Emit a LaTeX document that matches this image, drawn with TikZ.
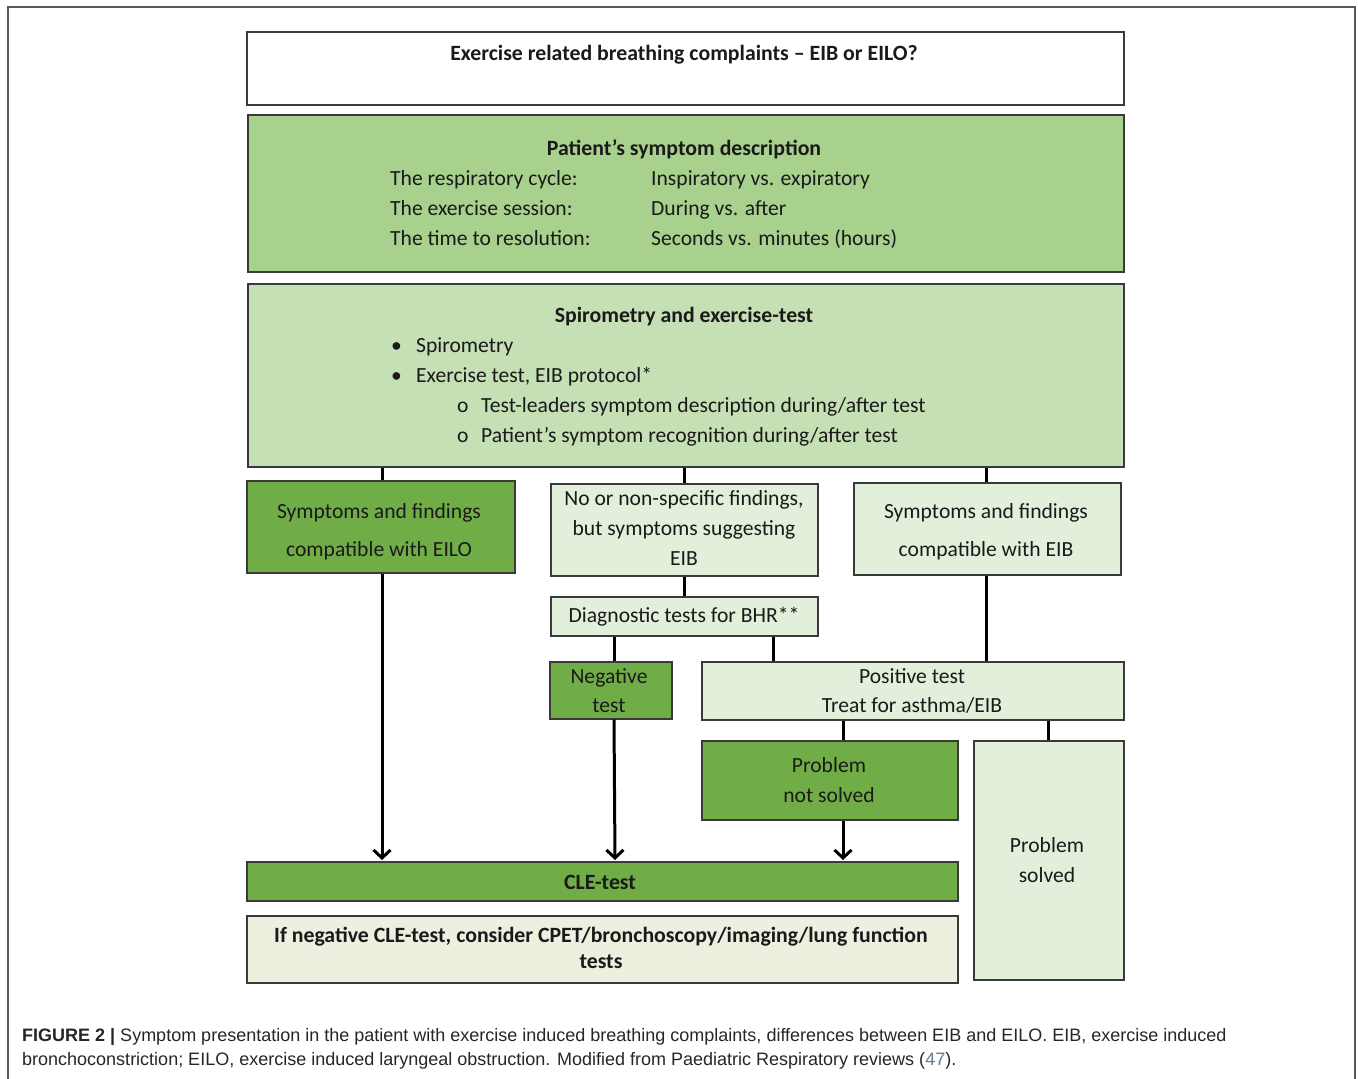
\documentclass[tikz,border=0pt]{standalone}
\usepackage{fontspec}
\setmainfont{Carlito}
\newfontfamily\capfont{Liberation Sans}
\usetikzlibrary{arrows.meta}
\definecolor{gmid}{HTML}{A9D18E}
\definecolor{glight}{HTML}{C5E0B4}
\definecolor{gdark}{HTML}{70AD47}
\definecolor{gpale}{HTML}{E2EFDA}
\definecolor{gcream}{HTML}{EBF1DE}
\definecolor{txt}{HTML}{1A1A1A}
\definecolor{bord}{HTML}{3A3A3A}
\definecolor{refc}{HTML}{6A7A90}
\tikzset{
  box/.style={draw=bord, line width=1.5pt, inner sep=0pt, text=txt, align=center},
  conn/.style={draw=black, line width=3pt},
  arr/.style={conn, -{Straight Barb[length=8pt,width=17pt,line width=3pt]}},
  lbl/.style={inner sep=0pt, text=txt, font=\fontsize{21.6}{30}\selectfont, anchor=base west},
  clbl/.style={inner sep=0pt, text=txt, font=\fontsize{21.6}{30}\selectfont, anchor=base},
  blbl/.style={inner sep=0pt, text=txt, font=\bfseries\fontsize{21.8}{30}\selectfont, anchor=base},
}
\newcommand{\boxat}[6]{% name, x1, y1, x2, y2, style
  \path (#2,#3) coordinate (#1-nw) (#4,#5) coordinate (#1-se);
  \node[box, #6, minimum width={(#4-#2)*1pt}, minimum height={(#5-#3)*1pt}, anchor=north west] (#1) at (#2,#3) {};
}
\begin{document}
\begin{tikzpicture}[x=1pt,y=-1pt]
\useasboundingbox (0,0) rectangle (1358,1079);
% outer frame
\draw[line width=1.2pt, draw=black!65] (8,1080) -- (8,7) -- (1355,7) -- (1355,1080);

% boxes
\boxat{title}{246}{31}{1123}{104}{fill=white}
\boxat{pat}{247}{114}{1123}{271}{fill=gmid}
\boxat{spiro}{247}{283}{1123}{466}{fill=glight}
\boxat{eilo}{246}{480}{514}{572}{fill=gdark}
\boxat{nons}{550}{483}{817}{575}{fill=gpale}
\boxat{eib}{853}{482}{1120}{574}{fill=gpale}
\boxat{diag}{550}{596}{817}{635}{fill=gpale}
\boxat{neg}{549}{661}{671}{718}{fill=gdark}
\boxat{pos}{701}{661}{1123}{719}{fill=gpale}
\boxat{pns}{701}{740}{957}{819}{fill=gdark}
\boxat{ps}{973}{740}{1123}{979}{fill=gpale}
\boxat{cle}{246}{861}{957}{900}{fill=gdark}
\boxat{cons}{246}{915}{957}{982}{fill=gcream}

% title text
\node[blbl] (titletxt) at (684,60) {Exercise related breathing complaints -- EIB or EILO?};

% patient box
\node[blbl] (pathead) at (684,155) {Patient’s symptom description};
\node[lbl] (p1a) at (390,185) {The respiratory cycle:};
\node[lbl] (p1b) at (651,185) {Inspiratory vs. expiratory};
\node[lbl] (p2a) at (390,215) {The exercise session:};
\node[lbl] (p2b) at (651,215) {During vs. after};
\node[lbl] (p3a) at (390,245) {The time to resolution:};
\node[lbl] (p3b) at (651,245) {Seconds vs. minutes (hours)};

% spirometry box
\node[blbl] (spirohead) at (684,322) {Spirometry and exercise-test};
\node[lbl] (b1) at (391,352) {•};
\node[lbl] (s1) at (416,352) {Spirometry};
\node[lbl] (b2) at (391,382) {•};
\node[lbl] (s2) at (416,382) {Exercise test, EIB protocol*};
\node[lbl] (o1) at (457,412) {o};
\node[lbl] (s3) at (481,412) {Test-leaders symptom description during/after test};
\node[lbl] (o2) at (457,442) {o};
\node[lbl] (s4) at (481,442) {Patient’s symptom\ recognition during/after test};

% middle-level texts
\node[clbl] (eilo1) at (379,518) {Symptoms\ and findings};
\node[clbl] (eilo2) at (379,556) {compatible with EILO};
\node[clbl] (nons1) at (684,505) {No or non-specific findings,};
\node[clbl] (nons2) at (684,535) {but symptoms\ suggesting};
\node[clbl] (nons3) at (684,565) {EIB};
\node[clbl] (eib1) at (986,518) {Symptoms\ and findings};
\node[clbl] (eib2) at (986,556) {compatible with EIB};
\node[clbl] (diagt) at (684,622) {Diagnostic tests for BHR**};
\node[clbl] (neg1) at (609,683) {Negative};
\node[clbl] (neg2) at (609,712) {test};
\node[clbl] (pos1) at (912,683) {Positive test};
\node[clbl] (pos2) at (912,712) {Treat for asthma/EIB};
\node[clbl] (pns1) at (829,772) {Problem};
\node[clbl] (pns2) at (829,802) {not\ solved};
\node[clbl] (ps1) at (1047,852) {Problem};
\node[clbl] (ps2) at (1047,882) {solved};
\node[blbl] (clet) at (600,889) {CLE-test};
\node[blbl] (cons1) at (601,942) {If negative CLE-test, consider CPET/bronchoscopy/imaging/lung function};
\node[blbl] (cons2) at (601,968) {tests};

% connectors
\draw[conn] (spiro.south -| 382,0) -- (eilo.north -| 382,0);
\draw[conn] (spiro.south -| 684,0) -- (nons.north -| 684,0);
\draw[conn] (spiro.south -| 986,0) -- (eib.north -| 986,0);
\draw[conn] (nons.south -| 684,0) -- (diag.north -| 684,0);
\draw[conn] (diag.south -| 614,0) -- (neg.north -| 614,0);
\draw[conn] (diag.south -| 773,0) -- (pos.north -| 773,0);
\draw[conn] (eib.south -| 986,0) -- (pos.north -| 986,0);
\draw[conn] (pos.south -| 843,0) -- (pns.north -| 843,0);
\draw[conn] (pos.south -| 1048,0) -- (ps.north -| 1048,0);
\draw[arr] (eilo.south -| 382,0) -- ([yshift=1pt]cle.north -| 382,0);
\draw[arr] (neg.south -| 614,0) -- ([yshift=1pt]cle.north -| 615,0);
\draw[arr] (pns.south -| 843,0) -- ([yshift=1pt]cle.north -| 843,0);

% caption
\node[inner sep=0pt, anchor=base west, font=\capfont\fontsize{18}{24}\selectfont, text=black!85] (cap1) at (22,1041) {\textbf{FIGURE 2 |} Symptom presentation in the patient with exercise induced breathing complaints, differences between EIB and EILO. EIB, exercise induced};
\node[inner sep=0pt, anchor=base west, font=\capfont\fontsize{18}{24}\selectfont, text=black!85] (cap2) at (22,1065) {bronchoconstriction; EILO, exercise induced laryngeal obstruction. Modified from Paediatric Respiratory reviews (\textcolor{refc}{47}).};
\end{tikzpicture}
\end{document}
